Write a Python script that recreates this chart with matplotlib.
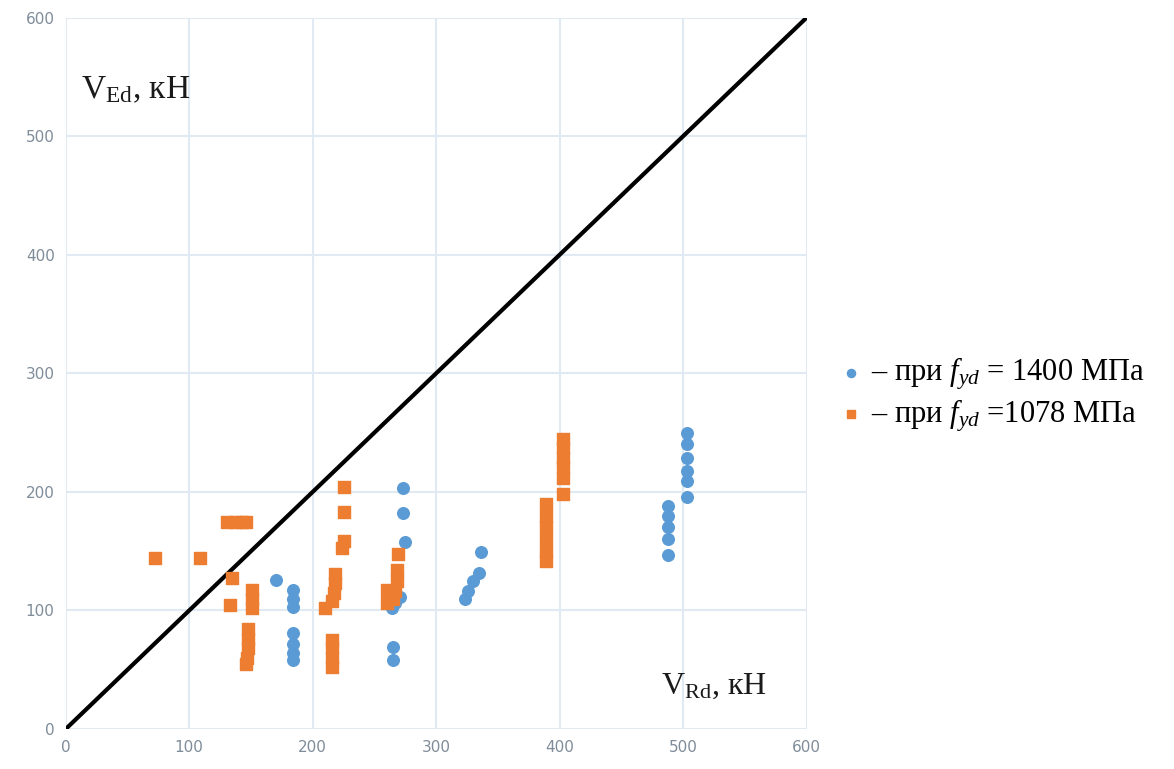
import matplotlib.pyplot as plt

plt.rcParams['font.family'] = ['Liberation Serif', 'DejaVu Serif']
plt.rcParams['mathtext.fontset'] = 'custom'
plt.rcParams['mathtext.rm'] = 'Liberation Serif'
plt.rcParams['mathtext.it'] = 'Liberation Serif:italic'

# fyd = 1400 MPa
vrd_1400 = [170, 184, 184, 184, 184, 184, 184, 184,
            273, 273, 275, 264, 267, 271, 265, 265,
            336, 335, 330, 326, 323,
            488, 488, 488, 488, 488,
            503, 503, 503, 503, 503, 503]
ved_1400 = [126, 117, 110, 103, 81, 72, 64, 58,
            203, 182, 158, 102, 106, 111, 69, 58,
            149, 132, 125, 116, 110,
            188, 180, 170, 160, 147,
            250, 240, 229, 218, 209, 196]

# fyd = 1078 MPa
vrd_1078 = [72, 109, 131, 137, 143, 146, 135, 133,
            151, 151, 151, 148, 148, 148, 147, 146,
            225, 225, 225, 224, 218, 218, 217, 216, 210,
            216, 216, 216, 216,
            269, 268, 268, 267, 265, 260, 260,
            389, 389, 389, 389, 389, 389,
            403, 403, 403, 403, 403, 403]
ved_1078 = [144, 144, 175, 175, 175, 175, 127, 105,
            117, 110, 102, 84, 76, 68, 60, 55,
            204, 183, 159, 153, 131, 123, 115, 108, 102,
            75, 68, 60, 52,
            148, 134, 125, 116, 110, 117, 106,
            190, 180, 170, 160, 150, 142,
            245, 237, 229, 221, 212, 198]

ticks = [0, 100, 200, 300, 400, 500, 600]

fig = plt.figure(figsize=(11.74, 7.69), dpi=100)
ax = fig.add_axes([0.056, 0.052, 0.631, 0.925])

ax.plot([0, 600], [0, 600], color='black', lw=3, zorder=2)
ax.scatter(vrd_1400, ved_1400, s=70, marker='o', color='#5B9BD5', zorder=3,
           label='– при $f_{yd}$ = 1400 МПа')
ax.scatter(vrd_1078, ved_1078, s=70, marker='s', color='#ED7D31', zorder=3,
           label='– при $f_{yd}$ =1078 МПа')

ax.set_xlim(0, 600)
ax.set_ylim(0, 600)
ax.set_xticks(ticks)
ax.set_yticks(ticks)
ax.grid(True, color='#e1e9f2', lw=1.5)
ax.set_axisbelow(True)
for s in ax.spines.values():
    s.set_visible(False)
ax.tick_params(length=0, labelsize=11, labelcolor='#7f8c99', pad=8)
for lab in ax.get_xticklabels() + ax.get_yticklabels():
    lab.set_family('DejaVu Sans')

ax.text(12, 532, r'V$_{\mathrm{Ed}}$, кН', fontsize=24, color='#1a1a1a')
ax.text(482, 30, r'V$_{\mathrm{Rd}}$, кН', fontsize=23, color='#1a1a1a')

ax.legend(loc='center left', bbox_to_anchor=(1.005, 0.47), frameon=False,
          fontsize=22, handlelength=0.9, handletextpad=0.2,
          markerscale=0.7, labelspacing=0.15)

plt.savefig('out.png')
